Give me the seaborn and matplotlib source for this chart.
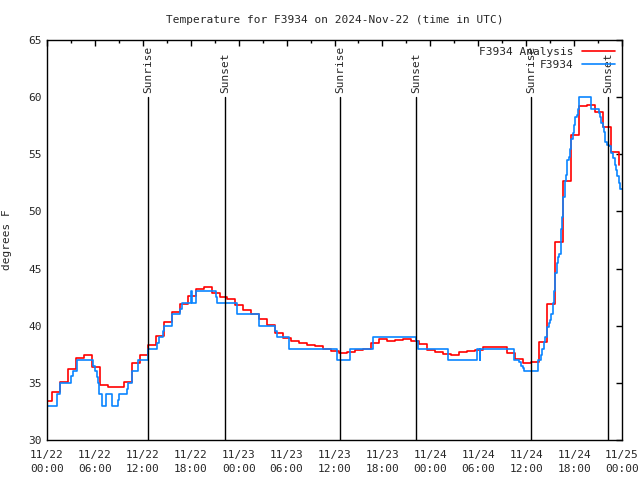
import numpy as np
import pandas as pd
import seaborn as sns
import matplotlib.pyplot as plt
from matplotlib.ticker import MultipleLocator

# hourly analysis values, each step starts 0.4 h before the hour
analysis_vals = [33.4, 34.2, 35.05, 36.2, 37.2, 37.4, 36.4, 34.8, 34.6, 34.65,
                 35.1, 36.7, 37.4, 38.3, 39.1, 40.3, 41.2, 41.9, 42.6, 43.2,
                 43.4, 42.9, 42.5, 42.3, 41.8, 41.35, 41.05, 40.6, 40.1, 39.4,
                 38.95, 38.7, 38.5, 38.3, 38.2, 37.95, 37.8, 37.6, 37.7, 37.9,
                 38.0, 38.5, 38.8, 38.7, 38.75, 38.8, 38.7, 38.4, 37.9, 37.7,
                 37.5, 37.45, 37.7, 37.75, 37.9, 38.1, 38.1, 38.1, 37.6, 37.05,
                 36.75, 36.85, 38.55, 41.9, 47.3, 52.7, 56.7, 59.2, 59.3, 58.7,
                 57.4, 55.2, 54.1]
analysis_hours = [h - 0.4 for h in range(len(analysis_vals))]

# station observations (hours since 11/22 00:00 UTC)
obs_hours = [0, 1.2, 1.6, 3.0, 3.3, 3.7, 3.8, 5.8, 6.0, 6.2, 6.35, 6.5, 6.9, 7.4,
             8.1, 8.2, 8.85, 9.05, 10.0, 10.1, 10.6, 11.4, 12.6, 13.8, 14.0, 14.5,
             14.65, 15.65, 15.7, 16.7, 16.9, 18.0, 18.1, 18.6, 21.1, 21.25, 23.75,
             23.8, 26.6, 28.6, 28.75, 30.3, 36.3, 37.9, 40.8, 46.2, 46.4, 50.2,
             53.9, 54.2, 54.25, 58.5, 59.15, 59.4, 59.56, 59.73,
             61.52, 61.82, 61.98, 62.23, 62.4, 62.65, 62.82, 62.99, 63.15, 63.32,
             63.49, 63.65, 63.82, 63.99, 64.15, 64.32, 64.49, 64.65, 64.82, 64.99,
             65.15, 65.32, 65.49, 65.65, 65.82, 65.99, 66.15, 66.32, 66.49, 66.65,
             68.16, 69.08, 69.25, 69.41, 69.58, 69.75, 69.91, 70.08, 70.33, 70.58,
             70.83, 71.08, 71.25, 71.41, 71.58, 71.75, 72.0]
obs_vals = [33, 34, 35, 35.6, 36, 36.6, 37, 36.5, 36, 35.5, 35, 34, 33, 34,
            33.7, 33, 33.5, 34, 34.5, 35, 36, 37, 38, 38.5, 39, 39.5,
            40, 40.5, 41, 41.5, 42, 43, 42, 43, 42.5, 42, 41.6,
            41, 40, 39.5, 39, 38, 37, 38, 39, 38.7, 38, 37,
            38, 37, 38, 37, 36.8, 36.5, 36.3, 36,
            37, 37.4, 38, 38.55, 39, 39.9, 40.2, 40.5, 41, 42,
            43, 44.6, 45.5, 46, 46.3, 48.5, 49.5, 51.3, 52.7, 53.2,
            54.5, 54.8, 55.5, 56.3, 56.9, 57.6, 58.3, 58.4, 59, 60,
            59, 58.6, 58.3, 57.7, 57.4, 56.95, 56.1, 55.8, 55.7, 55.1,
            54.7, 54.1, 53.6, 53.1, 52.45, 52.0, 52.0]

sunrise = [12.65, 36.68, 60.6]
sunset = [22.3, 46.22, 70.25]

tick_hours = list(range(0, 73, 6))
tick_labels = ['11/22\n00:00', '11/22\n06:00', '11/22\n12:00', '11/22\n18:00',
               '11/23\n00:00', '11/23\n06:00', '11/23\n12:00', '11/23\n18:00',
               '11/24\n00:00', '11/24\n06:00', '11/24\n12:00', '11/24\n18:00',
               '11/25\n00:00']

sns.set_style('white')
plt.rcParams['font.family'] = ['DejaVu Sans Mono']

fig = plt.figure(figsize=(6.4, 4.8), dpi=100)
ax = fig.add_axes([47/640, 40/480, 575/640, 400/480])

df_a = pd.DataFrame({'hours': analysis_hours, 'temp': analysis_vals})
df_o = pd.DataFrame({'hours': obs_hours, 'temp': obs_vals})
sns.lineplot(data=df_a, x='hours', y='temp', estimator=None, drawstyle='steps-post',
             color='#ff0000', lw=1.2, label='F3934 Analysis', ax=ax)
sns.lineplot(data=df_o, x='hours', y='temp', estimator=None, drawstyle='steps-post',
             color='#0a85ff', lw=1.2, label='F3934', ax=ax)

for t in sunrise:
    ax.plot([t, t], [30, 60], color='black', lw=1)
    ax.text(t, 60.4, 'Sunrise', rotation=90, ha='center', va='bottom', fontsize=8)
for t in sunset:
    ax.plot([t, t], [30, 60], color='black', lw=1)
    ax.text(t, 60.4, 'Sunset', rotation=90, ha='center', va='bottom', fontsize=8)

ax.set_xlim(0, 72)
ax.set_ylim(30, 65)
ax.set_xticks(tick_hours)
ax.set_xticklabels(tick_labels, linespacing=1.5)
ax.xaxis.set_minor_locator(MultipleLocator(3))
ax.set_yticks(range(30, 66, 5))
ax.tick_params(which='both', direction='in', top=True, right=True, labelsize=8,
               color='black', width=1)
ax.tick_params(which='major', length=4)
ax.tick_params(axis='x', which='major', pad=7)
ax.tick_params(which='minor', length=2.5)
for s in ax.spines.values():
    s.set_color('black')
    s.set_linewidth(1)

ax.set_xlabel('')
ax.set_ylabel('degrees F', fontsize=8, labelpad=12)
ax.set_title('Temperature for F3934 on 2024-Nov-22 (time in UTC)', fontsize=8, pad=12)
ax.legend(loc='upper right', frameon=False, markerfirst=False, fontsize=8,
          handlelength=3, borderaxespad=0.2, labelspacing=0.3)

fig.savefig('out.png', dpi=100)
